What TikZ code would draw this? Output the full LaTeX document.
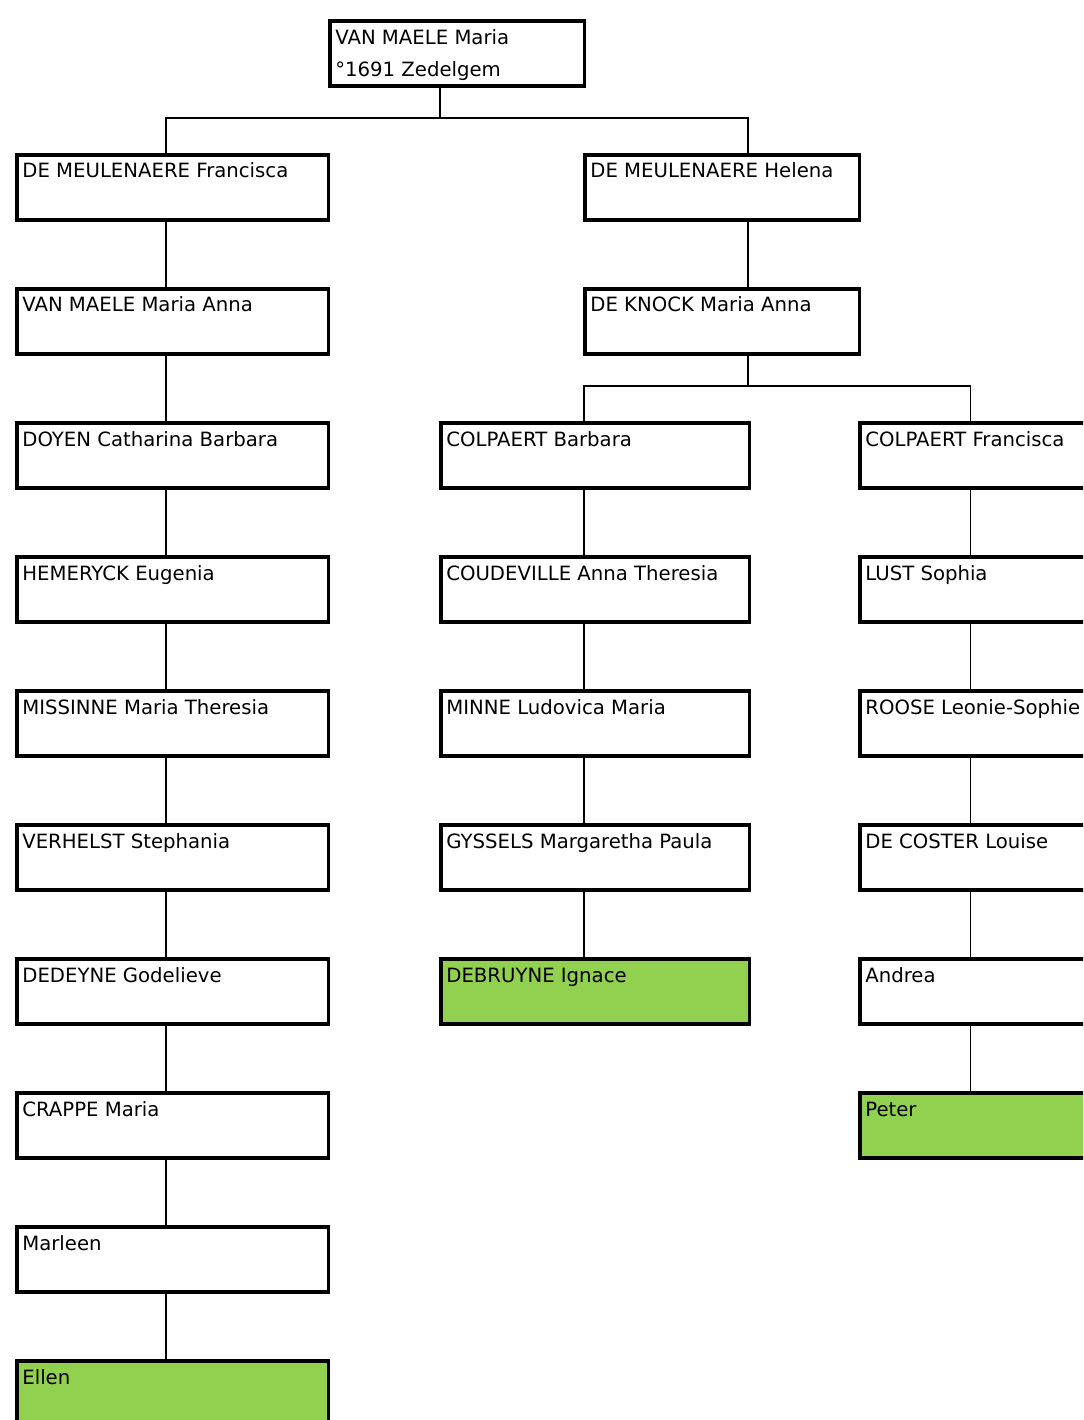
\documentclass[tikz,border=0pt]{standalone}
\usepackage{fontspec}
\setmainfont{DejaVu Sans}
\definecolor{egogreen}{RGB}{146,208,80}
\tikzset{
  person/.style={draw, line width=2pt, anchor=north west, inner sep=0pt,
    minimum width=#1, minimum height=1.3cm},
  person/.default=6.24cm,
  ego/.style={fill=egogreen},
  link/.style={line width=0.8pt},
  who/.style={anchor=base west, inner sep=0pt, xshift=0.14cm, yshift=-0.5cm,
    align=left, font=\fontsize{11.2pt}{18.7pt}\selectfont},
}

\begin{document}
\begin{tikzpicture}[x=0.02cm, y=-0.02cm]
      \useasboundingbox (0,0) rectangle (1083,1420);
      \clip (0,0) rectangle (1083,1420);

      % x of the vertical lines
      \coordinate (cT) at (440,0);
      \coordinate (cL) at (166,0);
      \coordinate (cH) at (748,0);
      \coordinate (cM) at (584,0);
      \coordinate (cR) at (970.5,0);
      \coordinate (j1) at (440,118);
      \coordinate (j2) at (748,386);

      \node[person=5.1cm, label={[who, yshift=-0.66cm]north west:{VAN MAELE Maria\\°1691 Zedelgem}}] (vm) at (328,19) {};

      % left line
      \node[person, label={[who]north west:DE MEULENAERE Francisca}] (l1) at (15,153) {};
      \node[person, label={[who]north west:VAN MAELE Maria Anna}] (l2) at (15,287) {};
      \node[person, label={[who]north west:DOYEN Catharina Barbara}] (l3) at (15,421) {};
      \node[person, label={[who]north west:HEMERYCK Eugenia}] (l4) at (15,555) {};
      \node[person, label={[who]north west:MISSINNE Maria Theresia}] (l5) at (15,689) {};
      \node[person, label={[who]north west:VERHELST Stephania}] (l6) at (15,823) {};
      \node[person, label={[who]north west:DEDEYNE Godelieve}] (l7) at (15,957) {};
      \node[person, label={[who]north west:CRAPPE Maria}] (l8) at (15,1091) {};
      \node[person, label={[who]north west:Marleen}] (l9) at (15,1225) {};
      \node[person, ego, label={[who]north west:Ellen}] (l10) at (15,1359) {};

      % right line
      \node[person=5.5cm, label={[who]north west:DE MEULENAERE Helena}] (r1) at (583,153) {};
      \node[person=5.5cm, label={[who]north west:DE KNOCK Maria Anna}] (r2) at (583,287) {};

      \node[person=6.18cm, label={[who]north west:COLPAERT Barbara}] (m3) at (439,421) {};
      \node[person=6.18cm, label={[who]north west:COUDEVILLE Anna Theresia}] (m4) at (439,555) {};
      \node[person=6.18cm, label={[who]north west:MINNE Ludovica Maria}] (m5) at (439,689) {};
      \node[person=6.18cm, label={[who]north west:GYSSELS Margaretha Paula}] (m6) at (439,823) {};
      \node[person=6.18cm, ego, label={[who]north west:DEBRUYNE Ignace}] (m7) at (439,957) {};

      \node[person=6.18cm, label={[who]north west:COLPAERT Francisca}] (x3) at (858,421) {};
      \node[person=6.18cm, label={[who]north west:LUST Sophia}] (x4) at (858,555) {};
      \node[person=6.18cm, label={[who]north west:ROOSE Leonie-Sophie}] (x5) at (858,689) {};
      \node[person=6.18cm, label={[who]north west:DE COSTER Louise}] (x6) at (858,823) {};
      \node[person=6.18cm, label={[who]north west:Andrea}] (x7) at (858,957) {};
      \node[person=6.18cm, ego, label={[who]north west:Peter}] (x8) at (858,1091) {};

      % branches
      \draw[link] (vm.south -| j1) -- (j1);
      \draw[link] (l1.north -| cL) |- (j1) -| (r1.north -| cH);
      \draw[link] (r2.south -| j2) -- (j2);
      \draw[link] (m3.north -| cM) |- (j2) -| (x3.north -| cR);

      \foreach \a/\b in {l1/l2, l2/l3, l3/l4, l4/l5, l5/l6, l6/l7, l7/l8, l8/l9, l9/l10}
        \draw[link] (\a.south -| cL) -- (\b.north -| cL);
      \draw[link] (r1.south -| cH) -- (r2.north -| cH);
      \foreach \a/\b in {m3/m4, m4/m5, m5/m6, m6/m7}
        \draw[link] (\a.south -| cM) -- (\b.north -| cM);
      \foreach \a/\b in {x3/x4, x4/x5, x5/x6, x6/x7, x7/x8}
        \draw[link] (\a.south -| cR) -- (\b.north -| cR);
    \end{tikzpicture}
\end{document}
